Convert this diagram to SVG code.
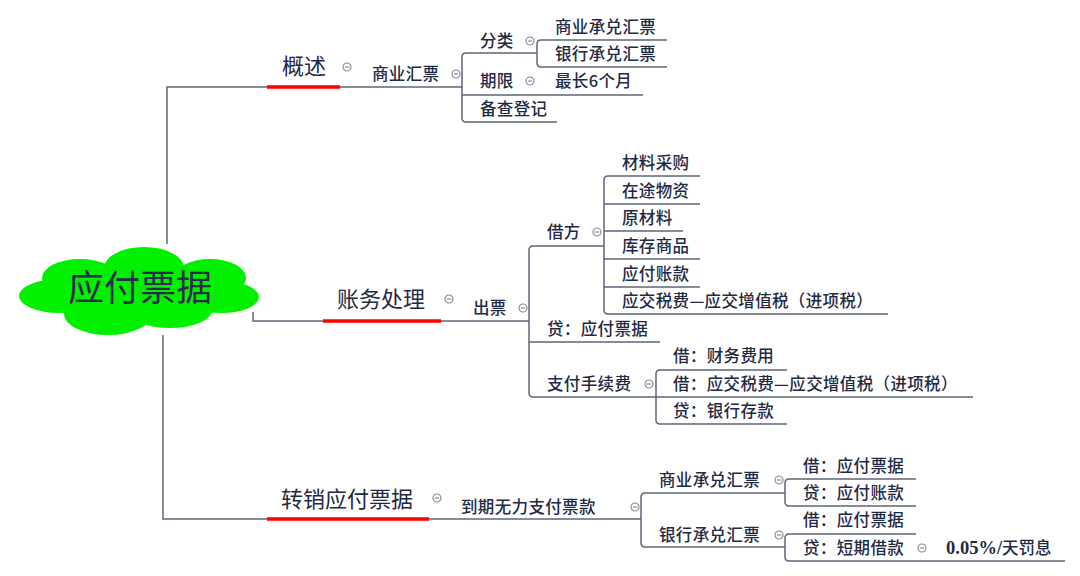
<svg xmlns="http://www.w3.org/2000/svg" width="1080" height="576" viewBox="0 0 1080 576">
<style>
.t{font-family:"Noto Sans CJK SC","Noto Sans",sans-serif;font-size:16.5px;letter-spacing:0.35px;font-weight:500;fill:#1f2a44}
.m{font-family:"Noto Sans CJK SC","Noto Sans",sans-serif;font-size:22px;fill:#1f2a44}
.r{font-family:"Noto Sans CJK SC","Noto Sans",sans-serif;font-size:36px;fill:#262c4a}
.n{font-family:"Liberation Serif","Noto Sans CJK SC",serif;font-size:18.5px;font-weight:bold;fill:#1f2a44}
.c{fill:none;stroke:#5d6577;stroke-width:1.5}
.u{fill:none;stroke:#ff0000;stroke-width:3.5}
</style>
<defs>
<g id="col"><circle r="4" fill="#ffffff" stroke="#8a909c" stroke-width="1.2"/><line x1="-2.2" y1="0" x2="2.2" y2="0" stroke="#8a909c" stroke-width="1.2"/></g>
</defs>
<rect width="1080" height="576" fill="#fff"/>
<g id="connectors">
<path class="c" d="M167 244 V87 H462"/>
<path class="c" d="M537 53 H466 Q462 53 462 57 V118 Q462 122 466 122 H557"/>
<path class="c" d="M462 95 H643"/>
<path class="c" d="M667 40 H541 Q537 40 537 44 V63 Q537 67 541 67 H667"/>
<path class="c" d="M253 312 V321 H529"/>
<path class="c" d="M700 176 H608 Q604 176 604 180 V310 Q604 314 608 314 H888"/>
<path class="c" d="M604 204 H700 M604 231 H683 M604 259 H700 M604 287 H700"/>
<path class="c" d="M604 246 H533 Q529 246 529 250 V393 Q529 397 533 397 H656"/>
<path class="c" d="M529 342 H660"/>
<path class="c" d="M787 370 H660 Q656 370 656 374 V420 Q656 424 660 424 H787"/>
<path class="c" d="M656 397 H973"/>
<path class="c" d="M163 335 V519 H641"/>
<path class="c" d="M785 493 H645 Q641 493 641 497 V543 Q641 547 645 547 H785"/>
<path class="c" d="M916 479 H789 Q785 479 785 483 V502 Q785 506 789 506 H916"/>
<path class="c" d="M916 534 H789 Q785 534 785 538 V557 Q785 561 789 561 H1065"/>
<path class="u" d="M267 87 H340 M323 321 H441 M267 519 H429"/>
</g>
<g id="root">
<g fill="#00f000">
<ellipse cx="144" cy="268" rx="40" ry="21"/>
<ellipse cx="80" cy="278" rx="38" ry="19"/>
<ellipse cx="210" cy="278" rx="36" ry="19"/>
<ellipse cx="60" cy="296" rx="41" ry="17"/>
<ellipse cx="222" cy="297" rx="37" ry="16"/>
<ellipse cx="108" cy="314" rx="44" ry="21"/>
<ellipse cx="170" cy="310" rx="42" ry="18"/>
<ellipse cx="140" cy="292" rx="100" ry="30"/>
</g>
<text class="r" x="140" y="301" text-anchor="middle">应付票据</text>
</g>
<g id="n-gaishu"><text class="m" x="282" y="74">概述</text><use href="#col" x="347" y="67"/></g>
<g id="n-syhp"><text class="t" x="372" y="80">商业汇票</text><use href="#col" x="456" y="74"/></g>
<g id="n-fenlei"><text class="t" x="480" y="47">分类</text><use href="#col" x="530" y="41"/></g>
<g id="n-syc1"><text class="t" x="555" y="33">商业承兑汇票</text></g>
<g id="n-yhc1"><text class="t" x="555" y="60">银行承兑汇票</text></g>
<g id="n-qixian"><text class="t" x="480" y="87">期限</text><use href="#col" x="530" y="81"/></g>
<g id="n-zc6"><text class="t" x="555" y="87">最长6个月</text></g>
<g id="n-bcdj"><text class="t" x="480" y="115">备查登记</text></g>
<g id="n-zwcl"><text class="m" x="337" y="307">账务处理</text><use href="#col" x="449" y="299"/></g>
<g id="n-chupiao"><text class="t" x="473" y="314">出票</text><use href="#col" x="523" y="308"/></g>
<g id="n-jiefang"><text class="t" x="547" y="238">借方</text><use href="#col" x="597" y="232"/></g>
<g id="n-clcg"><text class="t" x="622" y="169">材料采购</text></g>
<g id="n-ztwz"><text class="t" x="622" y="197">在途物资</text></g>
<g id="n-ycl"><text class="t" x="622" y="224">原材料</text></g>
<g id="n-kcsp"><text class="t" x="622" y="252">库存商品</text></g>
<g id="n-yfzk"><text class="t" x="622" y="280">应付账款</text></g>
<g id="n-yjsf"><text class="t" x="622" y="307">应交税费—应交增值税（进项税）</text></g>
<g id="n-dyfpj"><text class="t" x="547" y="335">贷：应付票据</text></g>
<g id="n-zfsxf"><text class="t" x="547" y="390">支付手续费</text><use href="#col" x="649" y="384"/></g>
<g id="n-cwfy"><text class="t" x="673" y="362">借：财务费用</text></g>
<g id="n-jyjsf"><text class="t" x="673" y="390">借：应交税费—应交增值税（进项税）</text></g>
<g id="n-yhck"><text class="t" x="673" y="417">贷：银行存款</text></g>
<g id="n-zxyfpj"><text class="m" x="281" y="507">转销应付票据</text><use href="#col" x="437" y="498"/></g>
<g id="n-dqwl"><text class="t" x="461" y="513">到期无力支付票款</text><use href="#col" x="635" y="507"/></g>
<g id="n-syc2"><text class="t" x="659" y="486">商业承兑汇票</text><use href="#col" x="779" y="480"/></g>
<g id="n-yhc2"><text class="t" x="659" y="541">银行承兑汇票</text><use href="#col" x="779" y="535"/></g>
<g id="n-j1"><text class="t" x="803" y="472">借：应付票据</text></g>
<g id="n-d1"><text class="t" x="803" y="499">贷：应付账款</text></g>
<g id="n-j2"><text class="t" x="803" y="526">借：应付票据</text></g>
<g id="n-d2"><text class="t" x="803" y="554">贷：短期借款</text><use href="#col" x="922" y="548"/></g>
<g id="n-fx"><text class="n" x="946" y="554">0.05%/<tspan style="font-family:'Noto Sans CJK SC',sans-serif;font-weight:500;font-size:16.5px">天罚息</tspan></text></g>
</svg>
